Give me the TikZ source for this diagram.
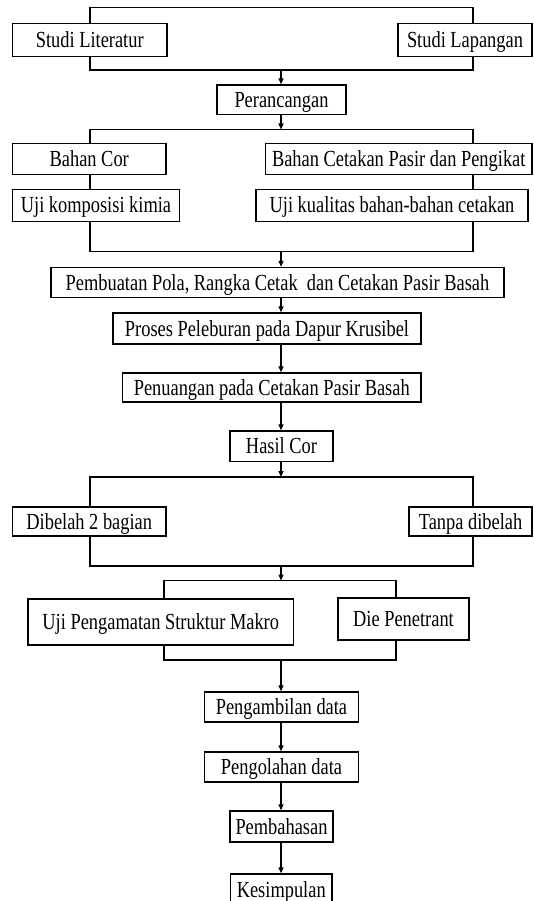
\documentclass[tikz,border=0pt]{standalone}
\usepackage{fontspec}
\setmainfont{Liberation Serif}[FakeStretch=0.80]
\usetikzlibrary{arrows.meta}
\tikzset{
  box/.style={draw, line width=1.4pt, fill=white, inner sep=0pt, align=center,
    text height=17pt, text depth=2pt,
    font=\fontsize{23}{25}\selectfont},
  link/.style={line width=1.3pt},
  arr/.style={line width=1.3pt, -{Triangle[length=6pt,width=5pt]}}
}
\begin{document}
\begin{tikzpicture}[x=1pt,y=-1pt]
\useasboundingbox (0,0) rectangle (534,901);
% nodes
\node[box, minimum width=154.5pt, minimum height=32.7pt] (lit) at (89.75,40.15) {Studi Literatur};
\node[box, minimum width=134pt, minimum height=32.7pt] (lap) at (465,40.15) {Studi Lapangan};
\node[box, minimum width=129pt, minimum height=29.5pt] (per) at (281.5,99.75) {Perancangan};
\node[box, minimum width=153.5pt, minimum height=30.7pt] (bcor) at (89.25,159) {Bahan Cor};
\node[box, minimum width=167pt, minimum height=31.7pt] (ukim) at (96,205.5) {Uji komposisi kimia};
\node[box, minimum width=266.5pt, minimum height=30.7pt] (bcet) at (398.75,159) {Bahan Cetakan Pasir dan Pengikat};
\node[box, minimum width=272pt, minimum height=31.7pt] (ukual) at (392,205.5) {Uji kualitas bahan-bahan cetakan};
\node[box, minimum width=453pt, minimum height=30pt] (pemb) at (277.5,282.5) {Pembuatan Pola, Rangka Cetak\ \ dan Cetakan Pasir Basah};
\node[box, minimum width=308pt, minimum height=31pt] (pros) at (267,328.5) {Proses Peleburan pada Dapur Krusibel};
\node[box, minimum width=298.5pt, minimum height=29pt] (penu) at (271.75,387.5) {Penuangan pada Cetakan Pasir Basah};
\node[box, minimum width=103pt, minimum height=30.5pt] (hasil) at (281.5,446.25) {Hasil Cor};
\node[box, minimum width=153.5pt, minimum height=29pt] (dib) at (89.25,521.5) {Dibelah 2 bagian};
\node[box, minimum width=123pt, minimum height=29pt] (tanpa) at (470.5,521.5) {Tanpa dibelah};
\node[box, minimum width=265.5pt, minimum height=46pt] (ujim) at (160.75,622) {Uji Pengamatan Struktur Makro};
\node[box, minimum width=131pt, minimum height=42pt] (die) at (403.5,619) {Die Penetrant};
\node[box, minimum width=154pt, minimum height=30pt] (pengam) at (281.5,707) {Pengambilan data};
\node[box, minimum width=154pt, minimum height=30pt] (pengol) at (281.5,767) {Pengolahan data};
\node[box, minimum width=103pt, minimum height=31pt] (pembah) at (281.5,826.5) {Pembahasan};
\node[box, minimum width=101.5pt, minimum height=31pt] (kes) at (281.25,889.5) {Kesimpulan};
% coordinates
\coordinate (sp) at (281,0);
\coordinate (t1l) at (90,7.5);   \coordinate (t1r) at (473,7.5);
\coordinate (b1l) at (90,70);    \coordinate (b1r) at (473,70);
\coordinate (t2l) at (90,129.5); \coordinate (t2r) at (473,129.5);
\coordinate (b2l) at (90,251.5); \coordinate (b2r) at (473,251.5);
\coordinate (t3l) at (90,477);   \coordinate (t3r) at (473,477);
\coordinate (b3l) at (90,566);   \coordinate (b3r) at (473,566);
\coordinate (t4l) at (164,580.5); \coordinate (t4r) at (396,580.5);
\coordinate (b4l) at (164,660);  \coordinate (b4r) at (396,660);
% connectors
\draw[link] (lit.north -| t1l) -- (t1l) -- (t1r) -- (lap.north -| t1r);
\draw[link] (lit.south -| b1l) -- (b1l) -- (b1r) -- (lap.south -| b1r);
\draw[arr] (b1l -| sp) -- (per.north -| sp);
\draw[arr] (per.south -| sp) -- (t2l -| sp);
\draw[link] (bcor.north -| t2l) -- (t2l) -- (t2r) -- (bcet.north -| t2r);
\draw[link] (bcor.south -| t2l) -- (ukim.north -| t2l);
\draw[link] (bcet.south -| t2r) -- (ukual.north -| t2r);
\draw[link] (ukim.south -| b2l) -- (b2l) -- (b2r) -- (ukual.south -| b2r);
\draw[arr] (b2l -| sp) -- (pemb.north -| sp);
\draw[arr] (pemb.south -| sp) -- (pros.north -| sp);
\draw[arr] (pros.south -| sp) -- (penu.north -| sp);
\draw[arr] (penu.south -| sp) -- (hasil.north -| sp);
\draw[arr] (hasil.south -| sp) -- (t3l -| sp);
\draw[link] (dib.north -| t3l) -- (t3l) -- (t3r) -- (tanpa.north -| t3r);
\draw[link] (dib.south -| b3l) -- (b3l) -- (b3r) -- (tanpa.south -| b3r);
\draw[arr] (b3l -| sp) -- (t4l -| sp);
\draw[link] (ujim.north -| t4l) -- (t4l) -- (t4r) -- (die.north -| t4r);
\draw[link] (ujim.south -| b4l) -- (b4l) -- (b4r) -- (die.south -| b4r);
\draw[arr] (b4l -| sp) -- (pengam.north -| sp);
\draw[arr] (pengam.south -| sp) -- (pengol.north -| sp);
\draw[arr] (pengol.south -| sp) -- (pembah.north -| sp);
\draw[arr] (pembah.south -| sp) -- (kes.north -| sp);
\end{tikzpicture}
\end{document}
